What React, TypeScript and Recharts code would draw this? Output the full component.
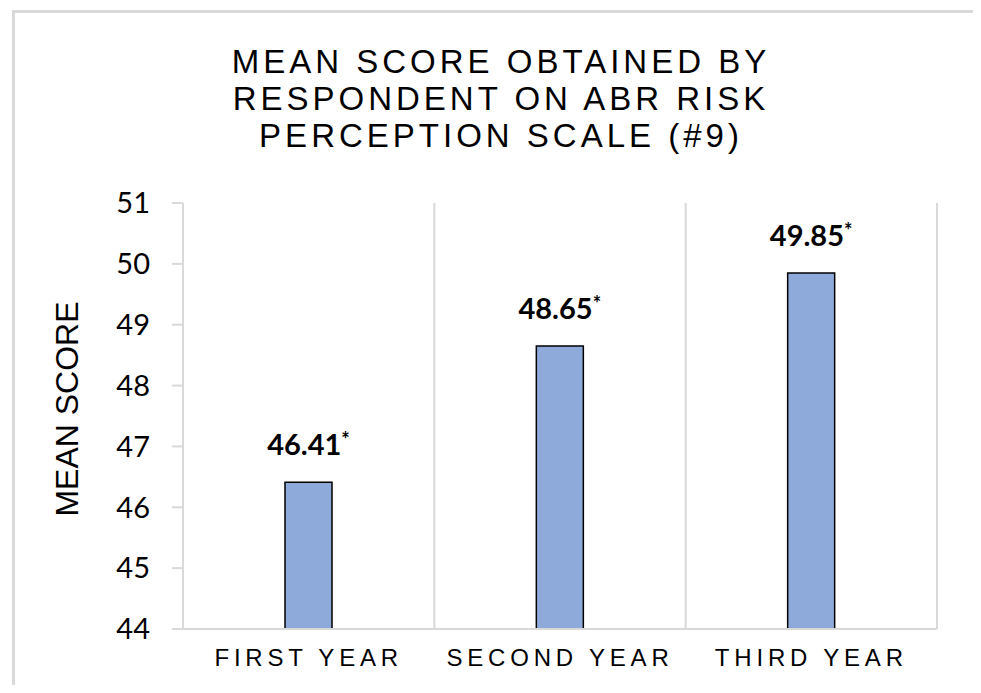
import { Bar, BarChart, CartesianGrid, LabelList, XAxis, YAxis } from 'recharts';

const CATEGORIES = ['FIRST YEAR', 'SECOND YEAR', 'THIRD YEAR'];
const MEAN_SCORES = [46.41, 48.65, 49.85];
const Y_TICKS = [44, 45, 46, 47, 48, 49, 50, 51];
const TITLE_LINES = ['MEAN SCORE OBTAINED BY', 'RESPONDENT ON ABR RISK', 'PERCEPTION SCALE (#9)'];

const GRID = '#d9d9d9';
const BAR_FILL = '#8eaadb';

const data = CATEGORIES.map((name, i) => ({ name, value: MEAN_SCORES[i] }));

function ValueLabel(props: any) {
  const { x, y, width, value } = props;
  return (
    <text
      x={x + width / 2}
      y={y - 27}
      textAnchor="middle"
      fontFamily="Lato, sans-serif"
      fontWeight={700}
      fontSize={29}
      fill="#000"
    >
      {Number(value).toFixed(2)}
      <tspan dy={-8} fontSize={20}>*</tspan>
    </text>
  );
}

export default function App() {
  return (
    <div style={{ position: 'relative', width: 981, height: 693, margin: -8, overflow: 'hidden', background: '#fff' }}>
      <div
        style={{
          position: 'absolute',
          left: 12,
          top: 10,
          width: 967,
          height: 700,
          boxSizing: 'border-box',
          border: `3px solid ${GRID}`,
        }}
      />
      <div style={{ position: 'absolute', left: 0, top: 0 }}>
        <BarChart
          width={981}
          height={693}
          data={data}
          margin={{ top: 203, right: 44, bottom: 14, left: 83 }}
        >
          <CartesianGrid
            horizontal={false}
            stroke={GRID}
            strokeWidth={2}
            verticalCoordinatesGenerator={({ offset }: any) =>
              CATEGORIES.map((_, i) => offset.left + (offset.width * (i + 1)) / CATEGORIES.length)
            }
          />
          <XAxis
            dataKey="name"
            height={50}
            axisLine={{ stroke: GRID, strokeWidth: 2 }}
            tickLine={false}
            tickSize={0}
            tickMargin={20}
            tick={{ fontFamily: 'Liberation Sans, Arial, sans-serif', fontSize: 24, fill: '#000', letterSpacing: 4.8 }}
          />
          <YAxis
            width={100}
            domain={[44, 51]}
            ticks={Y_TICKS}
            interval={0}
            axisLine={{ stroke: GRID, strokeWidth: 2 }}
            tickLine={{ stroke: GRID, strokeWidth: 2 }}
            tickSize={11}
            tickMargin={22}
            tick={{ fontFamily: 'Lato, sans-serif', fontSize: 29, fill: '#000' }}
          />
          <Bar
            dataKey="value"
            fill={BAR_FILL}
            stroke="#000"
            strokeWidth={1.5}
            barSize={47}
            isAnimationActive={false}
          >
            <LabelList dataKey="value" content={<ValueLabel />} />
          </Bar>
        </BarChart>
      </div>
      <svg width={981} height={693} style={{ position: 'absolute', left: 0, top: 0, pointerEvents: 'none' }}>
        {TITLE_LINES.map((line, i) => (
          <text
            key={line}
            x={501}
            y={73 + i * 37}
            textAnchor="middle"
            fontFamily="Liberation Sans, Arial, sans-serif"
            fontSize={33}
            letterSpacing={4}
            fill="#000"
          >
            {line}
          </text>
        ))}
        <text
          x={78}
          y={409}
          transform="rotate(-90, 78, 409)"
          textAnchor="middle"
          fontFamily="Liberation Sans, Arial, sans-serif"
          fontSize={32}
          fill="#000"
        >
          MEAN SCORE
        </text>
      </svg>
    </div>
  );
}
